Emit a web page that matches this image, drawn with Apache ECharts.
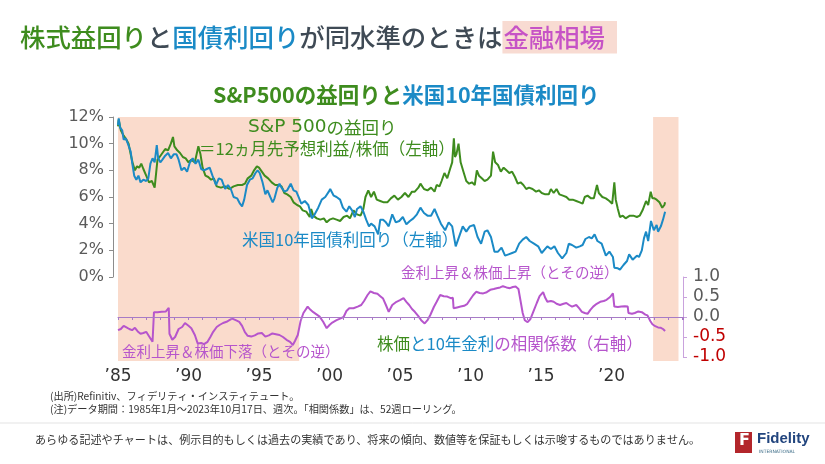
<!DOCTYPE html>
<html><head><meta charset="utf-8">
<script src="https://cdn.jsdelivr.net/npm/echarts@6/dist/echarts.min.js"></script>
<style>html,body{margin:0;padding:0;background:#fff}#c{width:825px;height:464px}</style>
</head><body><div id="c"></div>
<script>
// ---- data ----
const spYears = [1985.0,1985.05,1985.2,1985.4,1985.6,1985.75,1985.9,1986.05,1986.2,1986.35,1986.5,1986.65,1986.8,1987.0,1987.2,1987.4,1987.6,1987.8,1987.95,1988.15,1988.35,1988.55,1988.75,1988.9,1989.0,1989.2,1989.4,1989.6,1989.8,1990.0,1990.2,1990.45,1990.7,1990.85,1991.0,1991.2,1991.4,1991.6,1991.8,1992.0,1992.3,1992.6,1992.9,1993.2,1993.5,1993.8,1994.0,1994.2,1994.45,1994.65,1994.85,1995.0,1995.2,1995.4,1995.65,1995.9,1996.15,1996.4,1996.6,1996.8,1997.0,1997.25,1997.45,1997.7,1997.9,1998.1,1998.35,1998.6,1998.7,1998.85,1999.1,1999.35,1999.6,1999.8,2000.0,2000.25,2000.5,2000.75,2001.0,2001.25,2001.45,2001.7,2001.95,2002.2,2002.4,2002.55,2002.75,2002.95,2003.15,2003.35,2003.6,2003.85,2004.1,2004.35,2004.6,2004.85,2005.1,2005.35,2005.6,2005.85,2006.05,2006.3,2006.45,2006.7,2006.95,2007.2,2007.45,2007.6,2007.8,2007.95,2008.15,2008.35,2008.55,2008.7,2008.82,2008.9,2009.0,2009.15,2009.3,2009.5,2009.7,2009.9,2010.1,2010.3,2010.45,2010.6,2010.8,2011.0,2011.2,2011.45,2011.6,2011.75,2011.95,2012.15,2012.35,2012.55,2012.75,2012.95,2013.15,2013.35,2013.55,2013.75,2013.95,2014.15,2014.4,2014.65,2014.85,2015.05,2015.3,2015.55,2015.7,2015.9,2016.1,2016.3,2016.55,2016.8,2017.0,2017.25,2017.5,2017.75,2017.95,2018.1,2018.3,2018.55,2018.75,2018.97,2019.1,2019.35,2019.6,2019.85,2020.05,2020.2,2020.3,2020.45,2020.6,2020.8,2021.0,2021.3,2021.55,2021.8,2022.0,2022.2,2022.45,2022.6,2022.78,2022.9,2023.05,2023.2,2023.4,2023.6,2023.75,2023.8];
const spEarningsYield = [11.3,11.8,11.0,10.6,10.3,10.0,9.2,8.5,8.0,8.3,8.2,8.5,8.1,7.6,7.1,7.2,6.7,8.8,9.0,9.3,9.6,9.5,10.0,10.5,9.8,9.5,9.3,9.0,8.9,8.6,8.8,8.6,9.8,9.2,8.2,7.6,7.5,7.3,7.4,6.8,6.7,6.8,6.6,6.8,6.9,6.9,7.0,7.4,7.6,8.0,8.3,8.2,7.9,7.6,7.4,7.1,6.9,6.9,6.8,6.3,6.2,6.0,5.6,5.4,5.3,5.0,4.9,4.5,5.1,4.6,4.4,4.3,4.4,4.1,4.3,4.4,4.3,4.2,4.5,4.6,4.4,5.0,4.7,4.6,5.1,6.0,6.5,6.0,6.4,5.8,5.7,5.6,5.6,5.9,6.1,5.8,6.0,6.3,6.0,6.4,6.4,6.7,7.0,6.6,6.5,6.7,6.4,6.9,6.8,7.2,7.8,7.4,8.1,8.6,10.4,9.0,9.2,10.0,8.6,7.9,7.2,7.0,7.1,6.9,8.0,7.6,7.4,7.2,7.3,7.6,9.4,8.6,8.4,7.9,8.2,8.0,7.8,7.9,7.5,7.0,7.1,6.9,6.6,6.7,6.6,6.4,6.5,6.3,6.2,6.2,6.6,6.3,6.6,6.2,6.1,6.0,5.8,5.8,5.7,5.6,5.5,6.0,6.1,5.9,5.9,6.9,6.3,6.0,5.9,5.7,5.5,7.1,5.8,5.1,4.5,4.6,4.4,4.6,4.6,4.5,4.6,5.0,5.7,5.4,6.4,5.9,5.9,5.8,5.6,5.2,5.4,5.6];

const tsyYears = [1985.0,1985.05,1985.15,1985.3,1985.4,1985.55,1985.7,1985.9,1986.0,1986.15,1986.3,1986.45,1986.6,1986.8,1987.0,1987.15,1987.3,1987.45,1987.6,1987.75,1987.85,1988.0,1988.15,1988.35,1988.55,1988.75,1988.95,1989.15,1989.3,1989.5,1989.7,1989.9,1990.1,1990.3,1990.5,1990.7,1990.9,1991.1,1991.3,1991.5,1991.7,1991.95,1992.15,1992.35,1992.6,1992.8,1993.0,1993.2,1993.45,1993.65,1993.8,1993.95,1994.15,1994.35,1994.55,1994.75,1994.9,1995.05,1995.25,1995.45,1995.6,1995.8,1995.97,1996.1,1996.3,1996.45,1996.6,1996.8,1997.0,1997.25,1997.45,1997.65,1997.85,1998.0,1998.25,1998.5,1998.75,1998.95,1999.2,1999.45,1999.7,1999.95,2000.05,2000.3,2000.5,2000.75,2000.95,2001.2,2001.4,2001.6,2001.8,2001.95,2002.2,2002.4,2002.6,2002.8,2002.95,2003.2,2003.45,2003.6,2003.8,2004.0,2004.2,2004.45,2004.7,2004.95,2005.2,2005.45,2005.7,2005.95,2006.2,2006.45,2006.7,2006.95,2007.2,2007.45,2007.65,2007.9,2008.2,2008.45,2008.7,2008.95,2009.15,2009.45,2009.7,2009.95,2010.25,2010.5,2010.75,2011.0,2011.2,2011.45,2011.7,2011.95,2012.2,2012.45,2012.7,2012.95,2013.2,2013.45,2013.7,2013.95,2014.2,2014.5,2014.8,2015.05,2015.45,2015.7,2015.95,2016.2,2016.5,2016.8,2016.97,2017.2,2017.5,2017.75,2017.95,2018.15,2018.4,2018.6,2018.8,2019.0,2019.3,2019.6,2019.85,2020.1,2020.2,2020.45,2020.6,2020.85,2021.1,2021.25,2021.5,2021.8,2021.95,2022.15,2022.3,2022.45,2022.6,2022.8,2023.0,2023.2,2023.3,2023.5,2023.65,2023.8];
const tsyYield = [11.4,11.9,11.2,11.0,10.3,10.4,10.0,9.4,8.6,7.6,7.3,7.6,7.1,7.3,7.2,7.4,8.5,8.9,8.6,9.9,8.9,8.6,8.8,9.1,9.3,8.9,9.2,9.2,8.8,8.0,8.2,7.9,8.6,8.9,8.5,8.8,8.1,8.0,8.1,8.2,7.6,6.9,7.4,7.3,6.6,6.9,6.6,6.0,5.9,5.5,5.3,5.8,6.9,7.3,7.4,7.8,8.0,7.8,7.1,6.2,6.5,6.0,5.6,5.9,6.7,7.0,6.7,6.4,6.5,7.0,6.5,6.4,5.9,5.5,5.7,5.4,4.4,4.7,5.2,5.8,6.0,6.4,6.6,6.1,6.0,5.8,5.2,4.9,5.3,5.0,4.5,5.1,5.3,4.9,4.3,3.8,4.0,3.8,3.2,4.3,4.3,4.1,3.8,4.7,4.1,4.2,4.5,3.95,4.2,4.4,4.7,5.2,4.8,4.6,4.6,5.1,4.6,4.0,3.5,4.1,3.8,2.3,2.9,3.8,3.4,3.8,3.9,3.0,2.5,3.4,3.5,3.0,1.9,1.9,2.2,1.6,1.7,1.8,1.9,2.5,2.8,3.0,2.7,2.5,2.3,1.8,2.3,2.1,2.3,1.8,1.4,1.8,2.5,2.4,2.2,2.3,2.4,2.85,3.0,2.9,3.2,2.7,2.5,1.6,1.9,1.5,0.7,0.65,0.55,0.9,1.2,1.7,1.3,1.6,1.5,2.0,2.9,3.4,2.7,4.2,3.5,3.9,3.4,3.8,4.3,4.9];

const corrYears = [1985.0,1985.2,1985.4,1985.6,1985.8,1986.0,1986.2,1986.4,1986.6,1986.8,1987.0,1987.2,1987.45,1987.55,1987.8,1988.1,1988.4,1988.6,1988.65,1988.85,1989.05,1989.3,1989.55,1989.75,1990.0,1990.2,1990.45,1990.65,1990.9,1991.1,1991.35,1991.55,1991.75,1992.0,1992.2,1992.45,1992.7,1992.9,1993.1,1993.35,1993.6,1993.8,1994.0,1994.2,1994.45,1994.7,1994.95,1995.2,1995.45,1995.7,1995.95,1996.2,1996.45,1996.7,1996.95,1997.2,1997.4,1997.55,1997.75,1997.95,1998.15,1998.45,1998.65,1998.85,1999.1,1999.3,1999.55,1999.8,2000.0,2000.2,2000.5,2000.75,2001.0,2001.2,2001.4,2001.7,2002.0,2002.25,2002.45,2002.7,2002.9,2003.15,2003.4,2003.6,2003.8,2004.0,2004.2,2004.45,2004.75,2005.0,2005.25,2005.45,2005.65,2005.85,2006.05,2006.3,2006.5,2006.75,2006.95,2007.15,2007.4,2007.6,2007.85,2008.1,2008.35,2008.6,2008.75,2008.8,2009.05,2009.3,2009.55,2009.75,2010.0,2010.2,2010.4,2010.65,2010.9,2011.15,2011.4,2011.65,2011.85,2012.1,2012.3,2012.55,2012.8,2013.0,2013.2,2013.4,2013.55,2013.7,2013.85,2014.05,2014.25,2014.45,2014.7,2014.9,2015.15,2015.3,2015.45,2015.7,2015.9,2016.1,2016.35,2016.6,2016.8,2017.0,2017.2,2017.5,2017.7,2017.9,2018.1,2018.3,2018.5,2018.7,2018.95,2019.2,2019.45,2019.65,2019.9,2020.1,2020.2,2020.45,2020.7,2020.95,2021.15,2021.2,2021.45,2021.65,2021.9,2022.15,2022.4,2022.55,2022.75,2022.9,2023.1,2023.3,2023.5,2023.65,2023.8];
const corrValues = [-0.33,-0.3,-0.22,-0.26,-0.3,-0.33,-0.27,-0.36,-0.42,-0.4,-0.37,-0.48,-0.62,0.12,0.12,0.13,0.14,0.23,-0.42,-0.57,-0.5,-0.3,-0.25,-0.15,-0.22,-0.28,-0.45,-0.66,-0.65,-0.68,-0.62,-0.5,-0.37,-0.25,-0.2,-0.15,-0.12,-0.08,-0.04,-0.08,-0.12,-0.22,-0.38,-0.47,-0.49,-0.46,-0.41,-0.4,-0.49,-0.46,-0.41,-0.43,-0.45,-0.5,-0.57,-0.62,-0.7,-0.6,-0.45,-0.1,0.1,0.26,0.18,0.12,0.06,0.01,-0.12,-0.28,-0.2,-0.14,-0.08,-0.04,0.0,0.15,0.22,0.22,0.26,0.3,0.4,0.55,0.64,0.6,0.58,0.52,0.46,0.3,0.13,0.3,0.38,0.42,0.47,0.38,0.3,0.2,0.13,0.02,-0.08,-0.16,-0.08,0.05,0.25,0.38,0.55,0.52,0.51,0.47,0.48,0.22,0.24,0.26,0.28,0.32,0.45,0.55,0.63,0.6,0.59,0.62,0.68,0.7,0.72,0.74,0.77,0.74,0.72,0.75,0.76,0.7,0.4,0.1,-0.08,-0.13,-0.05,0.13,0.35,0.52,0.62,0.48,0.38,0.4,0.38,0.33,0.3,0.33,0.35,0.3,0.26,0.3,0.22,0.13,0.1,0.08,0.18,0.26,0.33,0.38,0.4,0.43,0.5,0.59,0.26,0.25,0.26,0.27,0.26,0.1,0.08,0.1,0.14,0.12,0.06,0.04,-0.1,-0.18,-0.23,-0.26,-0.27,-0.3,-0.35];

const bandStarts = [1985.0, 2022.95];
const bandEnds = [1997.85, 2024.75];
const leftTickLabels = ['0%','2%','4%','6%','8%','10%','12%'];

// ---- styles ----
const GREEN = '#3e8c1e', BLUE = '#1b8ac6', PURPLE = '#b655cc', PEACH = '#fadbcc';
const AXIS_PURPLE = '#a77bc6';
const JP = '"Noto Sans CJK JP", sans-serif';
const NUM = '"DejaVu Sans", sans-serif';
const zip = (xs, ys) => xs.map((x, i) => [x, ys[i]]);
const XMIN = 1985, XMAX = 2025.07;

const chart = echarts.init(document.getElementById('c'), null, {renderer: 'canvas'});
chart.setOption({
  animation: false,
  backgroundColor: '#fff',
  grid: [
    {left: 118, top: 117, width: 565, height: 160},
    {left: 118, top: 277, width: 565, height: 80},
    {left: 118, top: 117, width: 565, height: 244},
    {left: 118, top: 277, width: 565, height: 40}
  ],
  xAxis: [
    {gridIndex: 0, type: 'value', min: XMIN, max: XMAX, show: false},
    {gridIndex: 1, type: 'value', min: XMIN, max: XMAX, show: false},
    {gridIndex: 2, type: 'value', min: XMIN, max: XMAX, show: false},
    {gridIndex: 3, type: 'value', min: XMIN, max: XMAX, interval: 1, position: 'bottom', z: 5,
      axisLine: {show: true, onZero: false, lineStyle: {color: AXIS_PURPLE, width: 1}},
      axisTick: {show: true, length: 3, lineStyle: {color: AXIS_PURPLE}},
      splitLine: {show: false}, showMaxLabel: false,
      axisLabel: {margin: 51, fontSize: 17, color: '#333', fontFamily: NUM,
        formatter: v => (v % 5 === 0 && v <= 2020) ? '’' + String(v).slice(2) : ''}}
  ],
  yAxis: [
    {gridIndex: 0, type: 'value', min: 0, max: 12, interval: 2, position: 'left', offset: 5,
      axisLine: {show: true, lineStyle: {color: '#8c8c8c'}},
      axisTick: {show: true, length: 4, lineStyle: {color: '#8c8c8c'}},
      splitLine: {show: false},
      axisLabel: {margin: 9, fontSize: 16, color: '#5a5a5a', fontFamily: NUM,
        formatter: v => leftTickLabels[Math.round(v / 2)]}},
    {gridIndex: 1, type: 'value', min: -1, max: 1, interval: 0.5, position: 'right',
      axisLine: {show: true, lineStyle: {color: '#c9a2dd'}},
      axisTick: {show: true, length: 4, lineStyle: {color: '#c9a2dd'}},
      splitLine: {show: false},
      axisLabel: {margin: 10, fontSize: 17, fontFamily: NUM,
        color: v => v < 0 ? '#c00000' : '#5a5a5a',
        formatter: v => v.toFixed(1)}},
    {gridIndex: 2, type: 'value', min: 0, max: 1, show: false},
    {gridIndex: 3, type: 'value', min: 0, max: 1, show: false}
  ],
  series: [
    {type: 'line', xAxisIndex: 2, yAxisIndex: 2, data: [], silent: true, z: 0,
      markArea: {silent: true, itemStyle: {color: PEACH},
        data: bandStarts.map((s, i) => [{xAxis: s, yAxis: 0}, {xAxis: bandEnds[i], yAxis: 1}])}},
    {type: 'line', xAxisIndex: 0, yAxisIndex: 0, data: zip(spYears, spEarningsYield),
      showSymbol: false, lineStyle: {color: GREEN, width: 2}, itemStyle: {color: GREEN}, z: 3},
    {type: 'line', xAxisIndex: 0, yAxisIndex: 0, data: zip(tsyYears, tsyYield),
      showSymbol: false, lineStyle: {color: BLUE, width: 2}, itemStyle: {color: BLUE}, z: 4},
    {type: 'line', xAxisIndex: 1, yAxisIndex: 1, data: zip(corrYears, corrValues),
      showSymbol: false, lineStyle: {color: PURPLE, width: 2}, itemStyle: {color: PURPLE}, z: 4,
      markLine: {silent: true, symbol: 'none', label: {show: false}, z: 1,
        lineStyle: {color: AXIS_PURPLE, width: 1, type: 'solid'},
        data: [{yAxis: 0}]}}
  ],
  graphic: [
    {type: 'text', left: 20, top: 21, z: 10, style: {
      text: '{g|株式益回り}{k|と}{b|国債利回り}{k|が同水準のときは}{m|金融相場}',
      rich: {
        g: {fill: GREEN, fontSize: 25.4, fontFamily: JP, fontWeight: 500},
        b: {fill: BLUE, fontSize: 25.4, fontFamily: JP, fontWeight: 500},
        k: {fill: '#3f4a55', fontSize: 25.4, fontFamily: JP, fontWeight: 500},
        m: {fill: '#c653c6', fontSize: 25.4, fontFamily: JP, fontWeight: 500, backgroundColor: '#f8dbd2', padding: [4, 12, 3, 1]}
      }}},
    {type: 'text', left: 213, top: 84, z: 10, style: {
      text: '{g|S&P500の益回りと}{b|米国10年国債利回り}',
      rich: {
        g: {fill: GREEN, fontSize: 21.5, fontFamily: JP, fontWeight: 'bold'},
        b: {fill: BLUE, fontSize: 21.5, fontFamily: JP, fontWeight: 'bold'}
      }}},
    {type: 'text', left: 248, top: 118, z: 10, style: {
      text: '{l|S&P 500}{j|の益回り}',
      rich: {
        l: {fill: GREEN, fontSize: 18.5, fontFamily: NUM},
        j: {fill: GREEN, fontSize: 17.5, fontFamily: JP}
      }}},
    {type: 'text', left: 199, top: 140, z: 10, style: {text: '＝12ヵ月先予想利益/株価（左軸）', fill: GREEN, fontSize: 16.5, fontFamily: JP}},
    {type: 'text', left: 242, top: 231, z: 10, style: {text: '米国10年国債利回り（左軸）', fill: BLUE, fontSize: 16.5, fontFamily: JP}},
    {type: 'text', left: 401, top: 265, z: 10, style: {text: '金利上昇＆株価上昇（とその逆）', fill: PURPLE, fontSize: 14.5, fontFamily: JP}},
    {type: 'text', left: 122, top: 344, z: 10, style: {text: '金利上昇＆株価下落（とその逆）', fill: PURPLE, fontSize: 14.5, fontFamily: JP}},
    {type: 'text', left: 377, top: 335, z: 10, style: {
      text: '{g|株価}{b|と10年金利}{p|の相関係数（右軸）}',
      rich: {
        g: {fill: GREEN, fontSize: 16.5, fontFamily: JP},
        b: {fill: BLUE, fontSize: 16.5, fontFamily: JP},
        p: {fill: PURPLE, fontSize: 16.5, fontFamily: JP}
      }}},
    {type: 'text', left: 50, top: 391, z: 10, style: {text: '(出所)Refinitiv、フィデリティ・インスティテュート。', fill: '#333', fontSize: 10.2, fontFamily: JP}},
    {type: 'text', left: 50, top: 404, z: 10, style: {text: '(注)データ期間：1985年1月～2023年10月17日、週次。「相関係数」は、52週ローリング。', fill: '#333', fontSize: 10.2, fontFamily: JP}},
    {type: 'line', z: 10, shape: {x1: 0, y1: 423, x2: 825, y2: 423}, style: {stroke: '#e3e3e3', lineWidth: 1}},
    {type: 'text', left: 35, top: 434, z: 10, style: {text: 'あらゆる記述やチャートは、例示目的もしくは過去の実績であり、将来の傾向、数値等を保証もしくは示唆するものではありません。', fill: '#333', fontSize: 11.1, fontFamily: JP}},
    {type: 'rect', z: 10, shape: {x: 735, y: 432, width: 17, height: 21}, style: {fill: '#b3262b'}},
    {type: 'text', left: 739, top: 433, z: 11, style: {text: 'F', fill: '#fff', fontSize: 16, fontWeight: 'bold', fontFamily: NUM}},
    {type: 'text', left: 757, top: 431, z: 10, style: {text: 'Fidelity', fill: '#22457e', fontSize: 15, fontWeight: 'bold', fontFamily: '"Liberation Sans", sans-serif'}},
    {type: 'text', left: 759, top: 449, z: 10, style: {text: 'INTERNATIONAL', fill: '#3a6b86', fontSize: 4.5, fontFamily: NUM}}
  ]
});
</script>
</body></html>
